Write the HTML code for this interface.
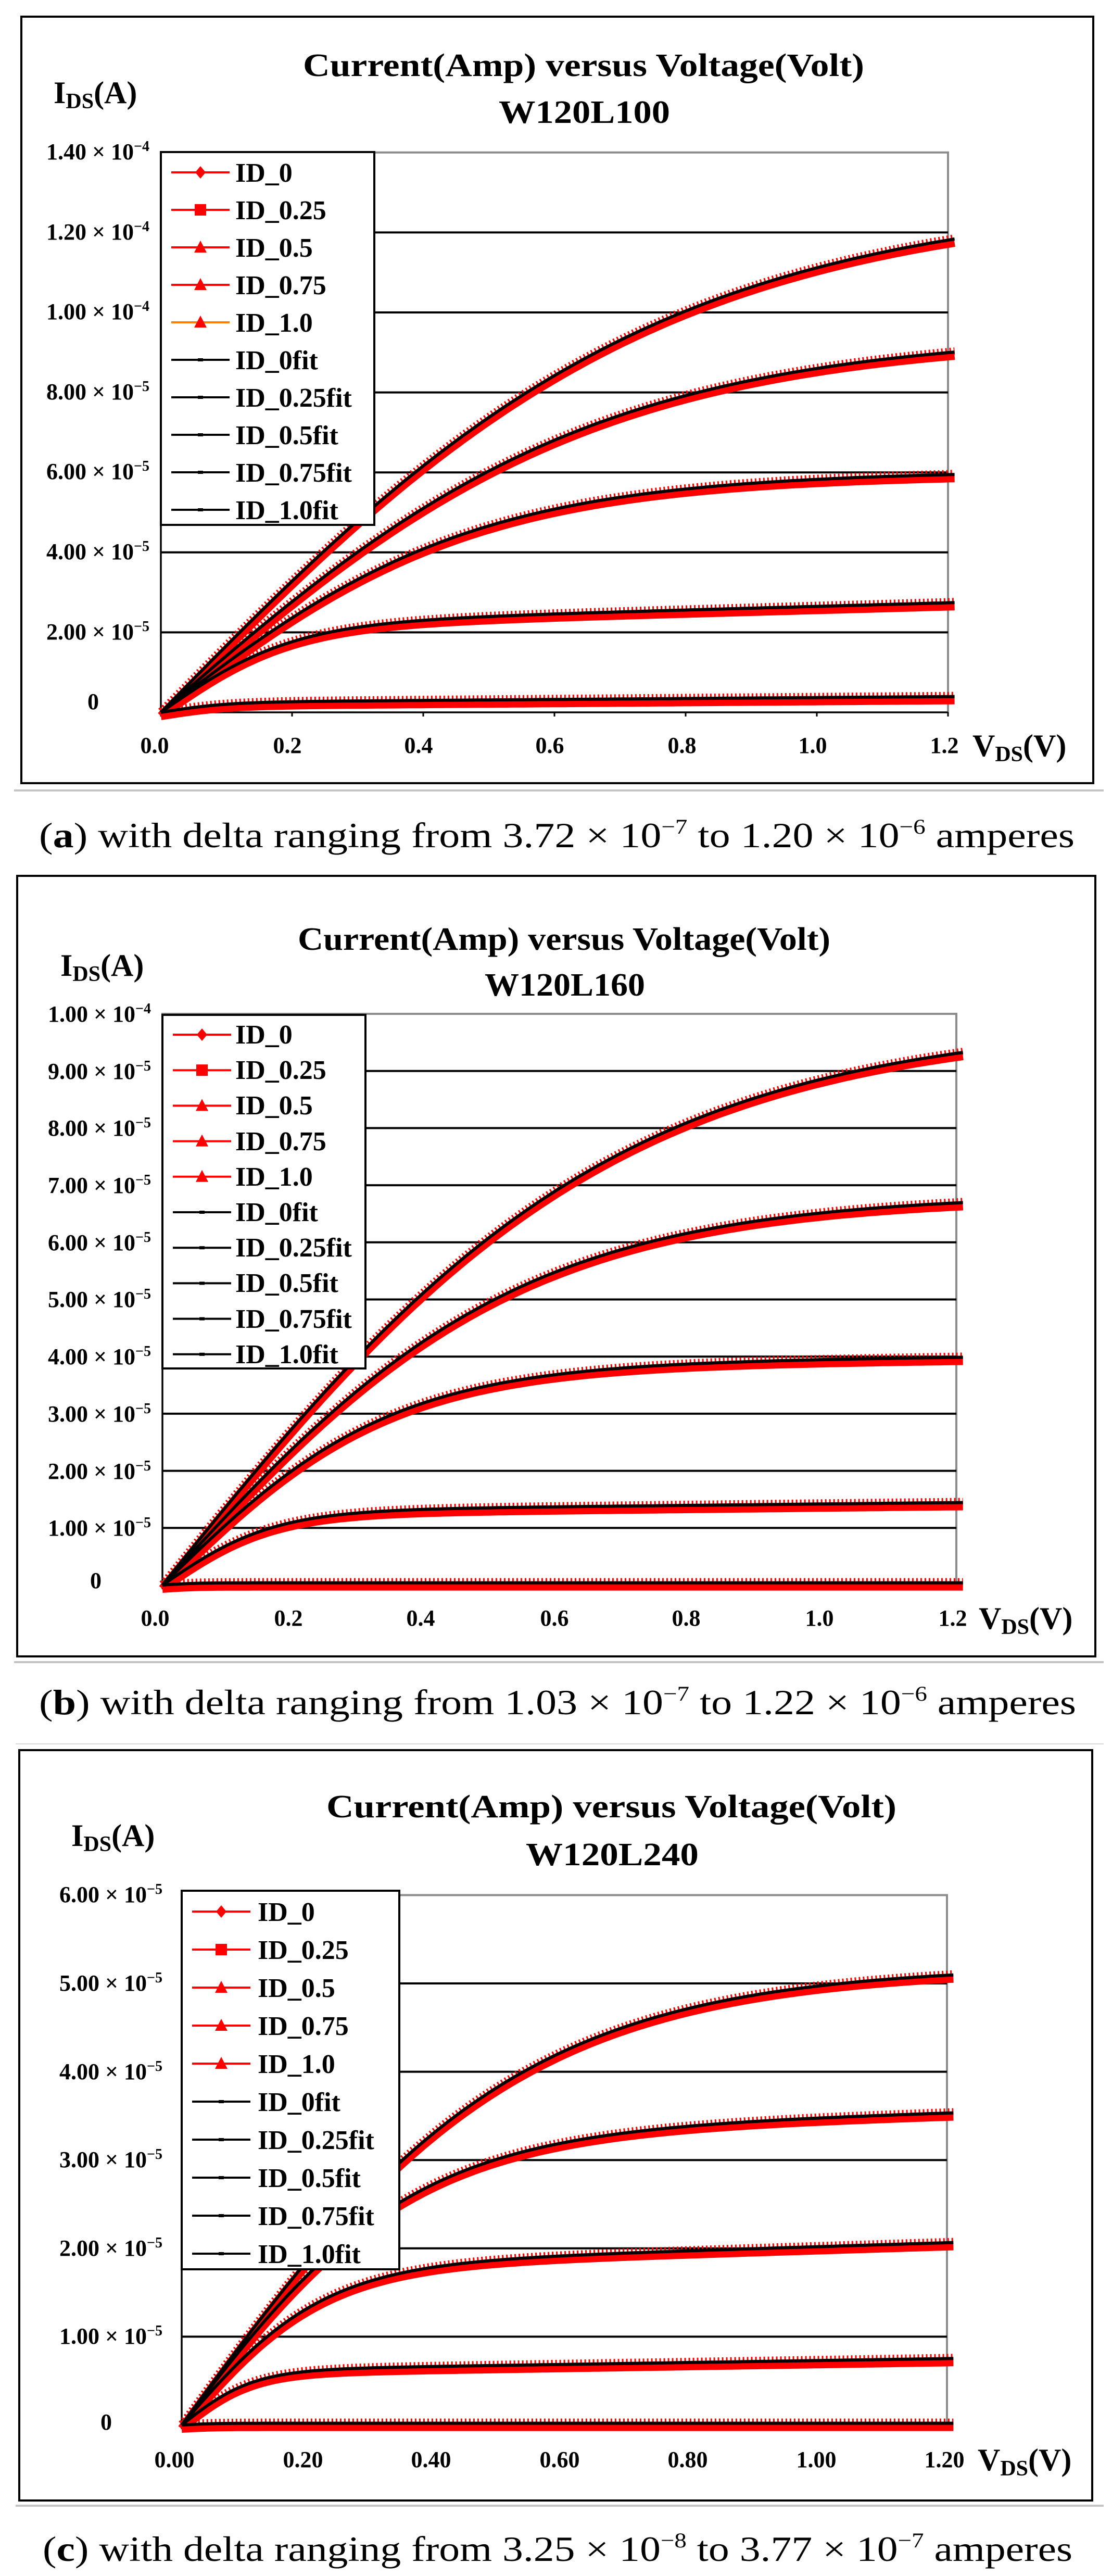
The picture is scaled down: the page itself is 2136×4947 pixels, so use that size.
<!DOCTYPE html>
<html><head><meta charset="utf-8"><style>
html,body{margin:0;padding:0;background:#fff;}
svg{display:block;}
.t{font-family:"Liberation Serif",serif;font-weight:bold;fill:#000;}
.c{font-family:"Liberation Serif",serif;fill:#000;}
</style></head><body>
<svg id="s" width="2136" height="4947" viewBox="0 0 2136 4947" xmlns="http://www.w3.org/2000/svg">
<rect x="0" y="0" width="2136" height="4947" fill="#fff"/>
<line x1="27" y1="1518" x2="2120" y2="1518" stroke="#c4c4c4" stroke-width="4"/>
<line x1="27" y1="3192" x2="2120" y2="3192" stroke="#c4c4c4" stroke-width="4"/>
<line x1="30" y1="3349" x2="2120" y2="3349" stroke="#d8d8d8" stroke-width="2"/>
<line x1="30" y1="4812" x2="2120" y2="4812" stroke="#c4c4c4" stroke-width="4"/>
<g id="gA"></g><g id="gB"></g><g id="gC"></g>

<text class="t" x="582" y="146" font-size="62" textLength="1078" lengthAdjust="spacingAndGlyphs">Current(Amp) versus Voltage(Volt)</text>
<text class="t" x="958" y="236" font-size="62" textLength="329" lengthAdjust="spacingAndGlyphs">W120L100</text>
<text class="t" x="103" y="198" font-size="60">I<tspan font-size="42" dy="10">DS</tspan><tspan dy="-10">(A)</tspan></text>
<g class="t" font-size="44" text-anchor="end" font-weight="normal">
<text x="287" y="306">1.40 × 10<tspan dy="-16" font-size="28">−4</tspan></text>
<text x="287" y="460">1.20 × 10<tspan dy="-16" font-size="28">−4</tspan></text>
<text x="287" y="613">1.00 × 10<tspan dy="-16" font-size="28">−4</tspan></text>
<text x="287" y="767">8.00 × 10<tspan dy="-16" font-size="28">−5</tspan></text>
<text x="287" y="920">6.00 × 10<tspan dy="-16" font-size="28">−5</tspan></text>
<text x="287" y="1074">4.00 × 10<tspan dy="-16" font-size="28">−5</tspan></text>
<text x="287" y="1228">2.00 × 10<tspan dy="-16" font-size="28">−5</tspan></text>
<text x="190" y="1362">0</text>
</g>
<g class="t" font-size="44" text-anchor="middle">
<text x="297" y="1446">0.0</text><text x="552" y="1446">0.2</text><text x="804" y="1446">0.4</text><text x="1056" y="1446">0.6</text><text x="1310" y="1446">0.8</text><text x="1561" y="1446">1.0</text><text x="1814" y="1446">1.2</text>
</g>
<text class="t" x="1868" y="1452" font-size="60">V<tspan font-size="42" dy="10">DS</tspan><tspan dy="-10">(V)</tspan></text>
<g class="t" font-size="52">
<text x="452" y="349">ID_0</text><text x="452" y="421">ID_0.25</text><text x="452" y="493">ID_0.5</text><text x="452" y="565">ID_0.75</text><text x="452" y="637">ID_1.0</text>
<text x="452" y="709">ID_0fit</text><text x="452" y="781">ID_0.25fit</text><text x="452" y="853">ID_0.5fit</text><text x="452" y="925">ID_0.75fit</text><text x="452" y="997">ID_1.0fit</text>
</g>
<text class="c" x="75" y="1627" font-size="68" textLength="1989" lengthAdjust="spacingAndGlyphs">(<tspan font-weight="bold">a</tspan>) with delta ranging from 3.72 × 10<tspan dy="-26" font-size="40">−7</tspan><tspan dy="26"> to 1.20 × 10</tspan><tspan dy="-26" font-size="40">−6</tspan><tspan dy="26"> amperes</tspan></text>

<text class="t" x="572" y="1824" font-size="62" textLength="1023" lengthAdjust="spacingAndGlyphs">Current(Amp) versus Voltage(Volt)</text>
<text class="t" x="931" y="1912" font-size="62" textLength="308" lengthAdjust="spacingAndGlyphs">W120L160</text>
<text class="t" x="116" y="1874" font-size="60">I<tspan font-size="42" dy="10">DS</tspan><tspan dy="-10">(A)</tspan></text>
<g class="t" font-size="44" text-anchor="end" font-weight="normal">
<text x="290" y="1962">1.00 × 10<tspan dy="-16" font-size="28">−4</tspan></text>
<text x="290" y="2072">9.00 × 10<tspan dy="-16" font-size="28">−5</tspan></text>
<text x="290" y="2181">8.00 × 10<tspan dy="-16" font-size="28">−5</tspan></text>
<text x="290" y="2291">7.00 × 10<tspan dy="-16" font-size="28">−5</tspan></text>
<text x="290" y="2401">6.00 × 10<tspan dy="-16" font-size="28">−5</tspan></text>
<text x="290" y="2510">5.00 × 10<tspan dy="-16" font-size="28">−5</tspan></text>
<text x="290" y="2620">4.00 × 10<tspan dy="-16" font-size="28">−5</tspan></text>
<text x="290" y="2730">3.00 × 10<tspan dy="-16" font-size="28">−5</tspan></text>
<text x="290" y="2840">2.00 × 10<tspan dy="-16" font-size="28">−5</tspan></text>
<text x="290" y="2949">1.00 × 10<tspan dy="-16" font-size="28">−5</tspan></text>
<text x="195" y="3050">0</text>
</g>
<g class="t" font-size="44" text-anchor="middle">
<text x="298" y="3122">0.0</text><text x="554" y="3122">0.2</text><text x="808" y="3122">0.4</text><text x="1065" y="3122">0.6</text><text x="1318" y="3122">0.8</text><text x="1574" y="3122">1.0</text><text x="1830" y="3122">1.2</text>
</g>
<text class="t" x="1880" y="3128" font-size="60">V<tspan font-size="42" dy="10">DS</tspan><tspan dy="-10">(V)</tspan></text>
<g class="t" font-size="52">
<text x="452" y="2004">ID_0</text><text x="452" y="2072">ID_0.25</text><text x="452" y="2140">ID_0.5</text><text x="452" y="2209">ID_0.75</text><text x="452" y="2277">ID_1.0</text>
<text x="452" y="2345">ID_0fit</text><text x="452" y="2413">ID_0.25fit</text><text x="452" y="2481">ID_0.5fit</text><text x="452" y="2550">ID_0.75fit</text><text x="452" y="2618">ID_1.0fit</text>
</g>
<text class="c" x="75" y="3292" font-size="68" textLength="1992" lengthAdjust="spacingAndGlyphs">(<tspan font-weight="bold">b</tspan>) with delta ranging from 1.03 × 10<tspan dy="-26" font-size="40">−7</tspan><tspan dy="26"> to 1.22 × 10</tspan><tspan dy="-26" font-size="40">−6</tspan><tspan dy="26"> amperes</tspan></text>

<text class="t" x="627" y="3490" font-size="62" textLength="1095" lengthAdjust="spacingAndGlyphs">Current(Amp) versus Voltage(Volt)</text>
<text class="t" x="1010" y="3582" font-size="62" textLength="332" lengthAdjust="spacingAndGlyphs">W120L240</text>
<text class="t" x="137" y="3545" font-size="60">I<tspan font-size="42" dy="10">DS</tspan><tspan dy="-10">(A)</tspan></text>
<g class="t" font-size="44" text-anchor="end" font-weight="normal">
<text x="312" y="3653">6.00 × 10<tspan dy="-16" font-size="28">−5</tspan></text>
<text x="312" y="3823">5.00 × 10<tspan dy="-16" font-size="28">−5</tspan></text>
<text x="312" y="3993">4.00 × 10<tspan dy="-16" font-size="28">−5</tspan></text>
<text x="312" y="4162">3.00 × 10<tspan dy="-16" font-size="28">−5</tspan></text>
<text x="312" y="4332">2.00 × 10<tspan dy="-16" font-size="28">−5</tspan></text>
<text x="312" y="4501">1.00 × 10<tspan dy="-16" font-size="28">−5</tspan></text>
<text x="215" y="4666">0</text>
</g>
<g class="t" font-size="44" text-anchor="middle">
<text x="335" y="4738">0.00</text><text x="582" y="4738">0.20</text><text x="828" y="4738">0.40</text><text x="1075" y="4738">0.60</text><text x="1321" y="4738">0.80</text><text x="1568" y="4738">1.00</text><text x="1814" y="4738">1.20</text>
</g>
<text class="t" x="1878" y="4744" font-size="60">V<tspan font-size="42" dy="10">DS</tspan><tspan dy="-10">(V)</tspan></text>
<g class="t" font-size="52">
<text x="495" y="3689">ID_0</text><text x="495" y="3762">ID_0.25</text><text x="495" y="3835">ID_0.5</text><text x="495" y="3908">ID_0.75</text><text x="495" y="3981">ID_1.0</text>
<text x="495" y="4054">ID_0fit</text><text x="495" y="4127">ID_0.25fit</text><text x="495" y="4200">ID_0.5fit</text><text x="495" y="4273">ID_0.75fit</text><text x="495" y="4346">ID_1.0fit</text>
</g>
<text class="c" x="82" y="4918" font-size="68" textLength="1978" lengthAdjust="spacingAndGlyphs">(<tspan font-weight="bold">c</tspan>) with delta ranging from 3.25 × 10<tspan dy="-26" font-size="40">−8</tspan><tspan dy="26"> to 3.77 × 10</tspan><tspan dy="-26" font-size="40">−7</tspan><tspan dy="26"> amperes</tspan></text>
</svg>
<script>
var NS="http://www.w3.org/2000/svg";
function el(g,n,a){var e=document.createElementNS(NS,n);for(var k in a)e.setAttribute(k,a[k]);g.appendChild(e);return e;}
function th(x){var e=Math.exp(2*x);return (e-1)/(e+1);}
function panel(id,c){
 var g=document.getElementById(id);
 el(g,"rect",{x:c.fx0,y:c.fy0,width:c.fx1-c.fx0,height:c.fy1-c.fy0,fill:"#fff",stroke:"#000","stroke-width":4});
 var top=c.py0-c.nk*c.dy;
 el(g,"rect",{x:c.px0,y:top,width:c.px1-c.px0,height:c.py0-top,fill:"#fff",stroke:"#8c8c8c","stroke-width":4});
 for(var k=1;k<c.nk;k++){var y=c.py0-k*c.dy;el(g,"line",{x1:c.px0,y1:y,x2:c.px1,y2:y,stroke:"#000","stroke-width":4});}
 el(g,"line",{x1:c.px0,y1:top,x2:c.px0,y2:c.py0,stroke:"#000","stroke-width":3});
 el(g,"line",{x1:c.px0,y1:c.py0,x2:c.px1,y2:c.py0,stroke:"#000","stroke-width":3});
 for(var i=0;i<=6;i++){var x=c.px0+i*(c.px1-c.px0)/6;el(g,"line",{x1:x,y1:c.py0,x2:x,y2:c.py0+8,stroke:"#000","stroke-width":3});}
 c.curves.forEach(function(cv){
  var pr="",pb="",ps="";
  for(var i=0;i<=150;i++){var V=1.21*i/150;var I=cv[0]*th(cv[1]*V)+cv[2]*V;
   var x=c.px0+V/1.2*(c.px1-c.px0);var y=c.py0-I/c.unit*c.dy;
   pr+=(i?"L":"M")+x.toFixed(1)+","+(y+7).toFixed(1);pb+=(i?"L":"M")+x.toFixed(1)+","+y.toFixed(1);
   ps+=(i?"L":"M")+x.toFixed(1)+","+(y-2).toFixed(1);}
  cv.pb=pb;
  el(g,"path",{d:ps,fill:"none",stroke:"#f00","stroke-width":14,"stroke-dasharray":"3 5"});
  el(g,"path",{d:pr,fill:"none",stroke:"#f00","stroke-width":16});
 });
 c.curves.forEach(function(cv){el(g,"path",{d:cv.pb,fill:"none",stroke:"#000","stroke-width":6});});
 var L=c.leg;
 el(g,"rect",{x:L.x0,y:L.y0,width:L.x1-L.x0,height:L.y1-L.y0,fill:"#fff",stroke:"#000","stroke-width":4});
 for(var j=0;j<10;j++){
  var y=L.first+j*L.step,x0=L.x0+20,x1=L.x0+132,xm=(x0+x1)/2;
  if(j<5){
   el(g,"line",{x1:x0,y1:y,x2:x1,y2:y,stroke:(j==4&&id=="gA")?"#ff7f00":"#f00","stroke-width":4});
   if(j==0)el(g,"polygon",{points:(xm)+","+(y-12)+" "+(xm+10)+","+y+" "+xm+","+(y+12)+" "+(xm-10)+","+y,fill:"#f00"});
   else if(j==1)el(g,"rect",{x:xm-11,y:y-11,width:22,height:22,fill:"#f00"});
   else el(g,"polygon",{points:xm+","+(y-13)+" "+(xm+12)+","+(y+10)+" "+(xm-12)+","+(y+10),fill:"#f00"});
  }else{
   el(g,"line",{x1:x0,y1:y,x2:x1,y2:y,stroke:"#000","stroke-width":4});
   el(g,"rect",{x:xm-5,y:y-3,width:10,height:6,fill:"#000"});
  }
 }
}
panel("gA",{fx0:41,fy0:32,fx1:2100,fy1:1504,px0:309,px1:1821,py0:1368,dy:153.6,nk:7,unit:2,
 curves:[[12.9,1.3,0],[9.5,1.5,0],[5.9,2.1,0.1],[2.2,5,0.45],[0.25,10,0.12]],
 leg:{x0:309,x1:719,y0:292,y1:1008,first:331,step:72}});
panel("gB",{fx0:33,fy0:1682,fx1:2104,fy1:3181,px0:312,px1:1837,py0:3044,dy:109.7,nk:10,unit:1,
 curves:[[9.9,1.45,0],[6.85,1.85,0],[3.85,2.9,0.12],[1.3,6,0.12],[0.04,20,0]],
 leg:{x0:312,x1:702,y0:1949,y1:2628,first:1987,step:68.2}});
panel("gC",{fx0:37,fy0:3361,fx1:2098,fy1:4802,px0:349,px1:1819,py0:4657,dy:169.6,nk:6,unit:1,
 curves:[[5.2,1.9,0],[3.3,2.8,0.2],[1.8,4.5,0.22],[0.62,9,0.11],[0.02,20,0]],
 leg:{x0:349,x1:767,y0:3631,y1:4358,first:3671,step:73}});
</script>
</body></html>
